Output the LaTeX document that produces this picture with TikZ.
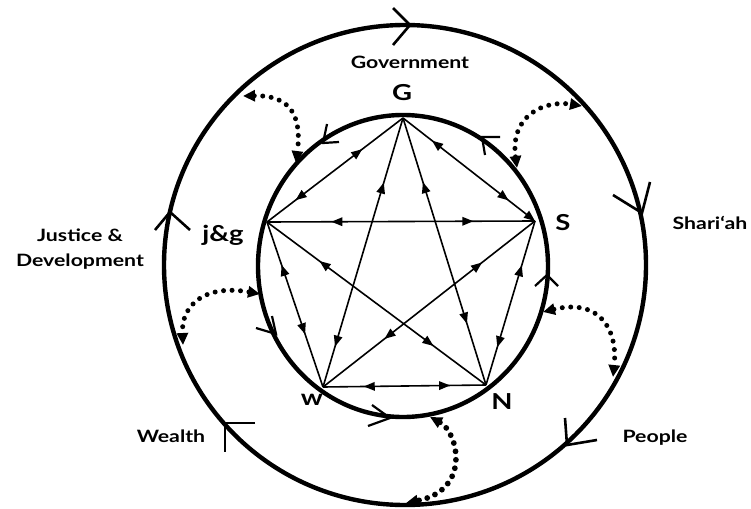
\documentclass[tikz,border=0pt]{standalone}
\usepackage{fontspec}
\setmainfont{Lato}[FakeStretch=1.25]
\usetikzlibrary{arrows.meta,decorations.markings}
\tikzset{
  ring/.style={line width=4.4pt},
  chev/.style={line width=2.6pt, line join=miter},
  ichev/.style={line width=2.2pt, line join=miter},
  penta/.style 2 args={line width=1.6pt, postaction={decorate},
    decoration={markings,
      mark=at position #1 with {\arrowreversed{Triangle[length=11pt,width=8.5pt]}},
      mark=at position #2 with {\arrow{Triangle[length=11pt,width=8.5pt]}}}},
  dots/.style={line width=5pt, line cap=round, dash pattern=on 0pt off 8.5pt,
    {Triangle[length=12pt,width=11pt]}-{Triangle[length=12pt,width=11pt]}},
  vlab/.style={font=\fontsize{22}{26}\selectfont\bfseries, inner sep=0pt},
  tlab/.style={font=\fontsize{17}{25}\selectfont\bfseries, inner sep=0pt, align=center},
}
\begin{document}
\begin{tikzpicture}[x=1pt,y=-1pt]
\useasboundingbox (0,0) rectangle (751,508);
% circles
\draw[ring] (405,265) ellipse [x radius=241pt, y radius=240pt];
\draw[ring] (403,266) ellipse [x radius=145pt, y radius=151pt];
% vertices
\coordinate (G) at (403,118);
\coordinate (J) at (267,222);
\coordinate (S) at (535,221);
\coordinate (W) at (323,387);
\coordinate (N) at (486,385);
% pentagon edges
\draw[penta={0.30}{0.79}] (G) -- (J);
\draw[penta={0.22}{0.80}, -{Triangle[length=11pt,width=8.5pt]}] (G) -- (S);
\draw[penta={0.24}{0.77}] (J) -- (S);
\draw[penta={0.25}{0.78}] (W) -- (N);
\draw[penta={0.24}{0.85}] (G) -- (W);
\draw[penta={0.24}{0.77}] (G) -- (N);
\draw[penta={0.24}{0.76}] (J) -- (N);
\draw[penta={0.25}{0.71}] (S) -- (W);
\draw[penta={0.26}{0.68}] (J) -- (W);
\draw[penta={0.27}{0.77}] (S) -- (N);
% outer chevrons (clockwise)
\draw[chev] (393,8) -- (410,25) -- (393,45);
\draw[chev] (613,195) -- (642,213) -- (650,182);
\draw[chev] (565,418) -- (567,445) -- (597,440);
\draw[chev] (255,423) -- (225,423) -- (225,452);
\draw[chev] (155,230) -- (170,212) -- (190,230);
% inner chevrons (counterclockwise)
\draw[ichev] (327,124) -- (323,143) -- (339,142);
\draw[ichev] (500,137) -- (482,137) -- (485,155);
\draw[ichev] (535,286) -- (547,275) -- (558,286);
\draw[ichev] (372,405) -- (390,418) -- (368,426);
\draw[ichev] (256,328) -- (276,334) -- (272,316);
% dotted connectors
\coordinate (o1) at (243,96);  \coordinate (i1) at (296,163);
\coordinate (o2) at (582,106); \coordinate (i2) at (517,168);
\coordinate (o3) at (613,377); \coordinate (i3) at (543,312);
\coordinate (o4) at (406,503); \coordinate (i4) at (430,417);
\coordinate (o5) at (183,345); \coordinate (i5) at (260,294);
\draw[dots] (o1) .. controls (290,95) and (302,115) .. (i1);
\draw[dots] (i2) .. controls (510,115) and (545,100) .. (o2);
\draw[dots] (i3) .. controls (600,298) and (618,330) .. (o3);
\draw[dots, line width=5.8pt] (i4) .. controls (458,432) and (472,490) .. (o4);
\draw[dots] (i5) .. controls (205,284) and (181,305) .. (o5);
% labels
\node[vlab] (lG) at (402,93) {G};
\node[vlab] (lJ) at (223,235) {j\&g};
\node[vlab] (lS) at (563,223) {S};
\node[vlab] (lW) at (312,400) {w};
\node[vlab] (lN) at (502,402) {N};
\node[tlab] (gov) at (410,62) {Government};
\node[tlab] (sha) at (710,223) {Shari‘ah};
\node[tlab] (peo) at (655,438) {People};
\node[tlab] (wea) at (171,436) {Wealth};
\node[tlab] (jus) at (80,249) {Justice \&\\Development};
\end{tikzpicture}
\end{document}
